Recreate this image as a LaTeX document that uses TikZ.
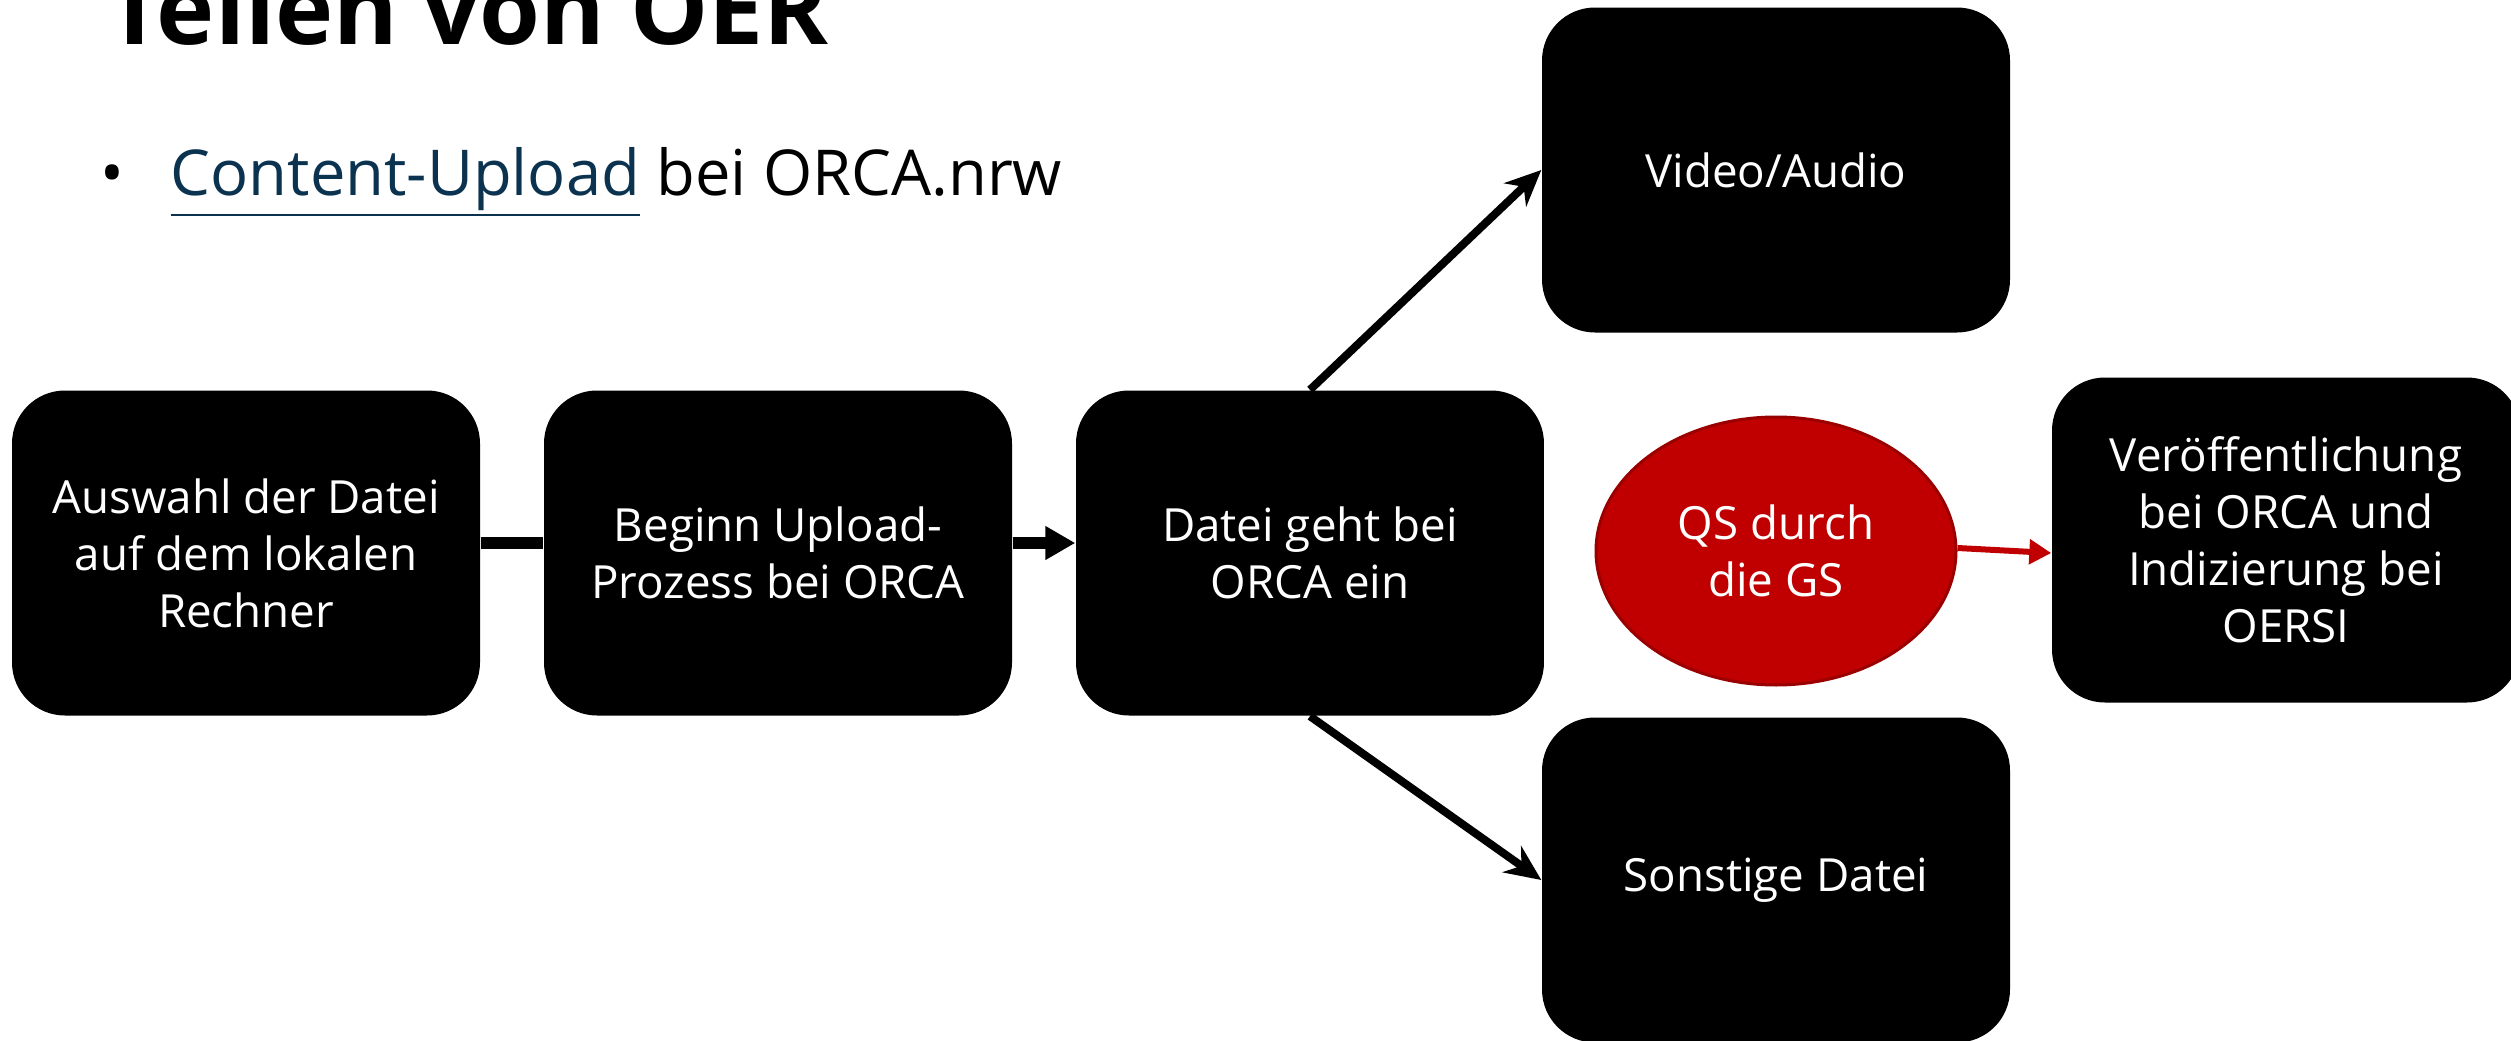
\documentclass[tikz,border=0pt]{standalone}
\usepackage{fontspec}
\setmainfont{Open Sans}
\usepackage{xcolor}
\usepackage{tikz}
\usetikzlibrary{shapes.geometric, arrows.meta}
\definecolor{linkblue}{HTML}{0B3350}
\definecolor{qsred}{HTML}{C00000}
\definecolor{qsedge}{HTML}{9A0000}

\begin{document}
\begin{tikzpicture}[x=0.1mm, y=-0.1mm, node distance=53.2mm]
% Define styles
\tikzstyle{stepbox} = [rectangle, rounded corners=5.3mm, minimum width=46.8mm, minimum height=32.5mm, inner sep=0pt, align=center, fill=black, text=white, font=\fontsize{13pt}{16.2pt}\selectfont]
\tikzstyle{check} = [ellipse, minimum width=36mm, minimum height=26.8mm, inner sep=0pt, align=center, fill=qsred, draw=qsedge, line width=0.3mm, text=white, font=\fontsize{13pt}{16.2pt}\selectfont]
\tikzstyle{link} = [line width=1.2mm]
\tikzstyle{arrow} = [line width=1.2mm, -{Triangle[length=3mm, width=3.2mm]}]
\tikzstyle{diag} = [line width=0.8mm, -{Stealth[length=3.6mm, width=3.2mm]}]
\tikzstyle{redarrow} = [line width=0.6mm, draw=qsred, -{Triangle[length=2.2mm, width=2.4mm]}]
\useasboundingbox (0,0) rectangle (2511,1041);
% Header
\node (title) [anchor=base west, inner sep=0pt, font=\bfseries\fontsize{28pt}{30pt}\selectfont] at (106,45) {Teilen von OER};
\node (dot) [anchor=base west, inner sep=0pt, font=\fontsize{18pt}{22pt}\selectfont] at (100,195) {•};
\node (line) [anchor=base west, inner sep=0pt, font=\fontsize{18pt}{22pt}\selectfont] at (170,195) {\textcolor{linkblue}{\underline{Content-Upload}} bei ORCA.nrw};
% Place nodes
\node (b1) [stepbox] at (246,553) {Auswahl der Datei\\auf dem lokalen\\Rechner};
\node (b2) [stepbox, right of=b1] {Beginn Upload-\\Prozess bei ORCA};
\node (b3) [stepbox, right of=b2] {Datei geht bei\\ORCA ein};
\node (video) [stepbox] at (1776,170) {Video/Audio};
\node (other) [stepbox] at (1776,880) {Sonstige Datei};
\node (qs) [check] at (1776,551) {QS durch\\die GS};
\node (pub) [stepbox] at (2286,540) {Veröffentlichung\\bei ORCA und\\Indizierung bei\\OERSI};
% Draw arrows
\draw [link] ([yshift=1mm]b1.east) -- ([yshift=1mm]b2.west);
\draw [arrow] ([yshift=1mm]b2.east) -- ([yshift=1mm]b3.west);
\draw [diag] (b3.north) -- (video.west);
\draw [diag] (b3.south) -- (other.west);
\draw [redarrow] ([yshift=0.3mm]qs.east) -- ([yshift=-1.3mm]pub.west);
\end{tikzpicture}
\end{document}
